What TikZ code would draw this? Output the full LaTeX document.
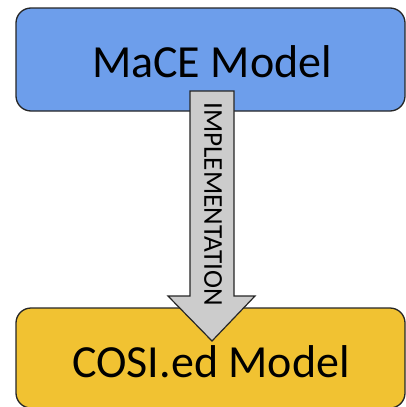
\documentclass[tikz,border=0pt]{standalone}
\usepackage{fontspec}
\setmainfont{Carlito}
\begin{document}
\begin{tikzpicture}[x=1pt,y=-1pt,
  modelbox/.style={draw=black!85,line width=1.3pt,rounded corners=15pt},
  blockarrow/.style={draw=black!85,line width=1.2pt,fill=gray!40,line join=miter},
  bigtext/.style={font=\fontsize{46}{50}\selectfont,inner sep=0pt},
  arrowtext/.style={font=\fontsize{27.2}{30}\selectfont,inner sep=0pt,rotate=-90}]
\useasboundingbox (0,0) rectangle (406,407);
\definecolor{maceblue}{HTML}{6D9EEB}
\definecolor{cosiyellow}{HTML}{F1C232}
\begin{scope}
\clip (0,0) rectangle (406,407);
\draw[modelbox,fill=maceblue] (16,8) rectangle (405,111);
\draw[modelbox,fill=cosiyellow] (16,308) rectangle (405,408);
\coordinate (mc) at (212,62);
\coordinate (cc) at (211,362);
\node[bigtext] (mace) at (mc) {MaCE Model};
\node[bigtext] (cosi) at (cc) {COSI.ed Model};
\draw[blockarrow] (190,91) -- (234,91) -- (234,296) -- (255,296) -- (212,341) -- (168,296) -- (190,296) -- cycle;
\node[arrowtext] (impl) at (213,204) {IMPLEMENTATION};
\end{scope}
\end{tikzpicture}
\end{document}
